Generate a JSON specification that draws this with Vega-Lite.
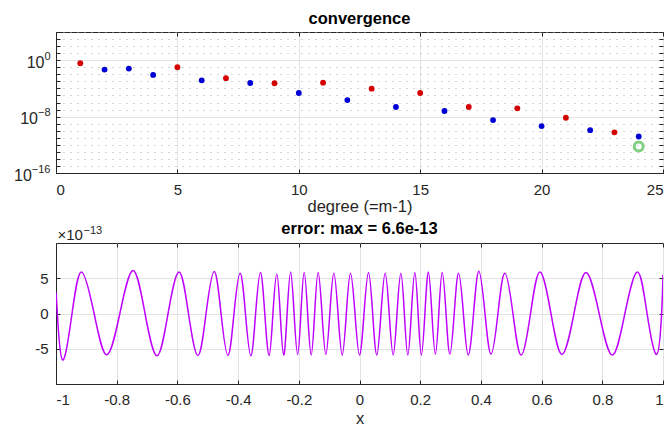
{
  "$schema": "https://vega.github.io/schema/vega-lite/v6.json",
  "padding": {"left": 13, "top": 10, "right": 0, "bottom": 0},
  "spacing": 5,
  "config": {
    "font": "Liberation Sans",
    "view": {"stroke": "#262626", "strokeWidth": 1},
    "axis": {
      "domainColor": "#262626",
      "tickColor": "#262626",
      "labelColor": "#262626",
      "titleColor": "#262626",
      "labelFontSize": 15,
      "titleFontSize": 16.5,
      "titleFontWeight": "normal",
      "gridColor": "#e3e3e3",
      "gridOpacity": 1
    },
    "title": {"fontSize": 16.5, "fontWeight": "bold", "color": "#000000", "baseline": "alphabetic"}
  },
  "datasets": {
    "coeffs": [
      {"degree": 1, "magnitude": 0.37, "group": "red"},
      {"degree": 2, "magnitude": 0.047, "group": "blue"},
      {"degree": 3, "magnitude": 0.065, "group": "blue"},
      {"degree": 4, "magnitude": 0.0081, "group": "blue"},
      {"degree": 5, "magnitude": 0.1, "group": "red"},
      {"degree": 6, "magnitude": 0.0014, "group": "blue"},
      {"degree": 7, "magnitude": 0.0028, "group": "red"},
      {"degree": 8, "magnitude": 0.00059, "group": "blue"},
      {"degree": 9, "magnitude": 0.00054, "group": "red"},
      {"degree": 10, "magnitude": 2.2e-5, "group": "blue"},
      {"degree": 11, "magnitude": 0.00065, "group": "red"},
      {"degree": 12, "magnitude": 2.2e-6, "group": "blue"},
      {"degree": 13, "magnitude": 9.1e-5, "group": "red"},
      {"degree": 14, "magnitude": 2.3e-7, "group": "blue"},
      {"degree": 15, "magnitude": 2.2e-5, "group": "red"},
      {"degree": 16, "magnitude": 6.2e-8, "group": "blue"},
      {"degree": 17, "magnitude": 2.3e-7, "group": "red"},
      {"degree": 18, "magnitude": 3.2e-9, "group": "blue"},
      {"degree": 19, "magnitude": 1.5e-7, "group": "red"},
      {"degree": 20, "magnitude": 4.5e-10, "group": "blue"},
      {"degree": 21, "magnitude": 6.9e-9, "group": "red"},
      {"degree": 22, "magnitude": 1.2e-10, "group": "blue"},
      {"degree": 23, "magnitude": 5.8e-11, "group": "red"},
      {"degree": 24, "magnitude": 1.5e-11, "group": "blue"}
    ],
    "tail": [
      {"degree": 24, "magnitude": 5.9e-13}
    ],
    "error": [
      {"x": -1, "err": 3.0},
      {"x": -0.9956, "err": 0},
      {"x": -0.9785, "err": -6.6},
      {"x": -0.9472, "err": 0},
      {"x": -0.9158, "err": 5.9},
      {"x": -0.8744, "err": 0},
      {"x": -0.833, "err": -5.86},
      {"x": -0.7896, "err": 0},
      {"x": -0.7462, "err": 6.09},
      {"x": -0.7067, "err": 0},
      {"x": -0.6671, "err": -6.0},
      {"x": -0.6308, "err": 0},
      {"x": -0.5945, "err": 5.9},
      {"x": -0.5635, "err": 0},
      {"x": -0.5324, "err": -5.95},
      {"x": -0.5056, "err": 0},
      {"x": -0.4788, "err": 5.95},
      {"x": -0.4562, "err": 0},
      {"x": -0.4335, "err": -5.95},
      {"x": -0.4135, "err": 0},
      {"x": -0.3934, "err": 5.7},
      {"x": -0.3758, "err": 0},
      {"x": -0.3582, "err": -6.0},
      {"x": -0.3423, "err": 0},
      {"x": -0.3264, "err": 5.8},
      {"x": -0.3121, "err": 0},
      {"x": -0.2978, "err": -5.95},
      {"x": -0.2852, "err": 0},
      {"x": -0.2725, "err": 5.6},
      {"x": -0.2613, "err": 0},
      {"x": -0.25, "err": -5.9},
      {"x": -0.2385, "err": 0},
      {"x": -0.227, "err": 5.9},
      {"x": -0.2155, "err": 0},
      {"x": -0.2039, "err": -5.8},
      {"x": -0.1931, "err": 0},
      {"x": -0.1823, "err": 5.8},
      {"x": -0.1708, "err": 0},
      {"x": -0.1592, "err": -5.9},
      {"x": -0.1478, "err": 0},
      {"x": -0.1363, "err": 5.8},
      {"x": -0.1236, "err": 0},
      {"x": -0.1109, "err": -5.8},
      {"x": -0.0978, "err": 0},
      {"x": -0.0846, "err": 5.7},
      {"x": -0.0708, "err": 0},
      {"x": -0.057, "err": -5.9},
      {"x": -0.0434, "err": 0},
      {"x": -0.0297, "err": 5.7},
      {"x": -0.0149, "err": 0},
      {"x": 0, "err": -5.9},
      {"x": 0.0149, "err": 0},
      {"x": 0.0297, "err": 5.8},
      {"x": 0.0434, "err": 0},
      {"x": 0.057, "err": -5.9},
      {"x": 0.0708, "err": 0},
      {"x": 0.0846, "err": 5.7},
      {"x": 0.0978, "err": 0},
      {"x": 0.1109, "err": -5.9},
      {"x": 0.1236, "err": 0},
      {"x": 0.1363, "err": 5.7},
      {"x": 0.1478, "err": 0},
      {"x": 0.1592, "err": -5.9},
      {"x": 0.1708, "err": 0},
      {"x": 0.1823, "err": 5.8},
      {"x": 0.1931, "err": 0},
      {"x": 0.2039, "err": -5.9},
      {"x": 0.2155, "err": 0},
      {"x": 0.227, "err": 5.9},
      {"x": 0.2385, "err": 0},
      {"x": 0.25, "err": -5.76},
      {"x": 0.2613, "err": 0},
      {"x": 0.2725, "err": 5.8},
      {"x": 0.2852, "err": 0},
      {"x": 0.2978, "err": -5.76},
      {"x": 0.3121, "err": 0},
      {"x": 0.3264, "err": 5.7},
      {"x": 0.3423, "err": 0},
      {"x": 0.3582, "err": -5.9},
      {"x": 0.3758, "err": 0},
      {"x": 0.3934, "err": 6.0},
      {"x": 0.4135, "err": 0},
      {"x": 0.4335, "err": -5.76},
      {"x": 0.4562, "err": 0},
      {"x": 0.4788, "err": 5.7},
      {"x": 0.5056, "err": 0},
      {"x": 0.5324, "err": -5.9},
      {"x": 0.5635, "err": 0},
      {"x": 0.5945, "err": 5.9},
      {"x": 0.6308, "err": 0},
      {"x": 0.6671, "err": -5.8},
      {"x": 0.7067, "err": 0},
      {"x": 0.7462, "err": 5.8},
      {"x": 0.7896, "err": 0},
      {"x": 0.833, "err": -5.9},
      {"x": 0.8744, "err": 0},
      {"x": 0.9158, "err": 5.9},
      {"x": 0.9475, "err": 0},
      {"x": 0.9791, "err": -5.8},
      {"x": 0.9954, "err": 0},
      {"x": 1, "err": 5.5}
    ]
  },
  "vconcat": [
    {
      "width": 607,
      "height": 141,
      "title": {"text": "convergence", "offset": 4},
      "layer": [
        {
          "data": {"name": "coeffs"},
          "mark": {"type": "circle", "size": 34, "opacity": 1},
          "encoding": {
            "x": {
              "field": "degree", "type": "quantitative",
              "scale": {"domain": [0, 25], "nice": false},
              "axis": {
                "values": [0, 5, 10, 15, 20, 25],
                "title": "degree (=m-1)",
                "grid": true,
                "tickSize": -4,
                "labelPadding": 13.5,
                "titlePadding": 0.5
              }
            },
            "y": {
              "field": "magnitude", "type": "quantitative",
              "scale": {"type": "log", "domain": [1e-16, 10000], "nice": false},
              "axis": {
                "values": [1e-16, 1e-15, 1e-14, 1e-13, 1e-12, 1e-11, 1e-10, 1e-9, 1e-8, 1e-7, 1e-6, 1e-5, 1e-4, 1e-3, 1e-2, 1e-1, 1, 10, 100, 1000, 10000],
                "labelExpr": "(datum.value > 0.5 && datum.value < 2) || (datum.value > 0.5e-8 && datum.value < 2e-8) || datum.value < 2e-16 ? '10' : ''",
                "labelAlign": "right",
                "labelPadding": {"condition": [{"test": "datum.value > 0.5", "value": 16}, {"test": "datum.value > 1e-12", "value": 22.5}], "value": 28.7},
                "labelOffset": 2,
                "labelFontSize": 16,
                "title": null,
                "grid": true,
                "gridDash": {"condition": {"test": "(datum.value > 0.5 && datum.value < 2) || (datum.value > 0.5e-8 && datum.value < 2e-8)", "value": []}, "value": [1, 6]},
                "gridColor": {"condition": {"test": "(datum.value > 0.5 && datum.value < 2) || (datum.value > 0.5e-8 && datum.value < 2e-8)", "value": "#e3e3e3"}, "value": "#a8a8a8"},
                "tickSize": -4
              }
            },
            "color": {
              "field": "group", "type": "nominal",
              "scale": {"domain": ["red", "blue"], "range": ["#d40000", "#0000d4"]},
              "legend": null
            }
          }
        },
        {
          "data": {"name": "tail"},
          "mark": {"type": "point", "shape": "circle", "size": 80, "strokeWidth": 3, "color": "#82d082", "filled": false, "opacity": 1},
          "encoding": {
            "x": {
              "field": "degree", "type": "quantitative",
              "axis": {"orient": "top", "values": [0, 5, 10, 15, 20, 25], "labels": false, "title": null, "grid": false, "tickSize": -4, "domain": false}
            },
            "y": {
              "field": "magnitude", "type": "quantitative",
              "axis": {"orient": "right", "values": [1e-16, 1e-15, 1e-14, 1e-13, 1e-12, 1e-11, 1e-10, 1e-9, 1e-8, 1e-7, 1e-6, 1e-5, 1e-4, 1e-3, 1e-2, 1e-1, 1, 10, 100, 1000, 10000], "labels": false, "title": null, "grid": false, "tickSize": -4, "domain": false}
            }
          }
        },
        {
          "data": {"name": "tail"},
          "mark": {"type": "point", "opacity": 0},
          "encoding": {
            "x": {"field": "degree", "type": "quantitative", "axis": null},
            "y": {
              "field": "magnitude", "type": "quantitative",
              "axis": {
                "orient": "left",
                "values": [1e-16, 1e-8, 1],
                "labelExpr": "datum.value > 0.5 ? '0' : (datum.value > 1e-12 ? '−8' : '−16')",
                "labelAlign": "right",
                "labelPadding": 10,
                "labelOffset": -4,
                "labelFontSize": 11,
                "title": null,
                "grid": false,
                "domain": false,
                "tickSize": -4,
                "tickColor": "transparent"
              }
            }
          }
        }
      ],
      "resolve": {"axis": {"x": "independent", "y": "independent"}}
    },
    {
      "width": 607,
      "height": 141,
      "title": {"text": "error: max = 6.6e-13", "offset": -13.5},
      "data": {"name": "error"},
      "layer": [
        {
          "mark": {"type": "line", "interpolate": "natural", "color": "#bf00ff", "strokeWidth": 1.5, "clip": true},
          "encoding": {
            "x": {
              "field": "x", "type": "quantitative",
              "scale": {"domain": [-1, 1], "nice": false},
              "axis": {
                "values": [-1, -0.8, -0.6, -0.4, -0.2, 0, 0.2, 0.4, 0.6, 0.8, 1],
                "labelExpr": "replace(format(datum.value, '~g'), '−', '-')",
                "title": "x",
                "grid": true,
                "tickSize": -4,
                "labelPadding": 12,
                "titlePadding": 3.5
              }
            },
            "y": {
              "field": "err", "type": "quantitative",
              "scale": {"domain": [-10, 10], "nice": false},
              "axis": {
                "values": [-5, 0, 5],
                "labelExpr": "replace(format(datum.value, '~g'), '−', '-')",
                "title": "×10",
                "titleAngle": 0,
                "titleAlign": "left",
                "titleBaseline": "alphabetic",
                "titleX": 1,
                "titleY": -4,
                "titleFontSize": 15,
                "grid": true,
                "tickSize": -4,
                "labelPadding": 12
              }
            }
          }
        },
        {
          "mark": {"type": "line", "opacity": 0},
          "encoding": {
            "x": {"field": "x", "type": "quantitative", "axis": {"orient": "top", "values": [-1, -0.8, -0.6, -0.4, -0.2, 0, 0.2, 0.4, 0.6, 0.8, 1], "labels": false, "title": "−13", "titleAngle": 0, "titleAlign": "left", "titleBaseline": "alphabetic", "titleX": 27, "titleY": -10, "titleFontSize": 11, "grid": false, "tickSize": -4, "domain": false}},
            "y": {"field": "err", "type": "quantitative", "axis": {"orient": "right", "values": [-5, 0, 5], "labels": false, "title": null, "grid": false, "tickSize": -4, "domain": false}}
          }
        }
      ],
      "resolve": {"axis": {"x": "independent", "y": "independent"}}
    }
  ]
}
